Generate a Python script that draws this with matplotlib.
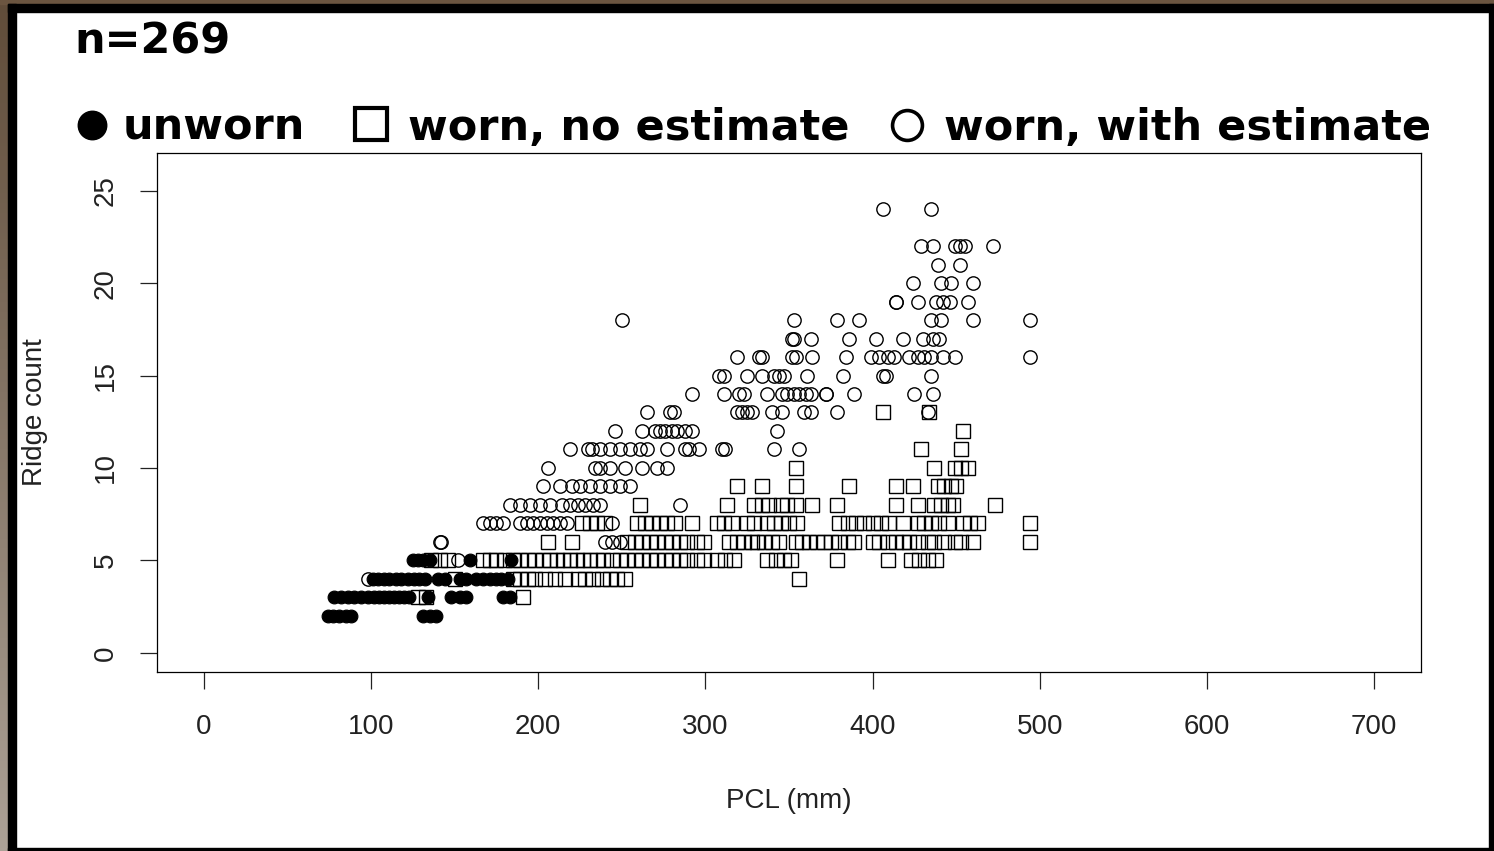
import numpy as np
import matplotlib
matplotlib.use("Agg")
import matplotlib.pyplot as plt
from matplotlib.patches import Rectangle

W, H = 1494, 851

# PCL (mm) values, grouped by ridge count
unworn = {
    2: [74, 77, 81, 85, 88, 131, 135, 139],
    3: [78, 82, 86, 90, 94, 98, 102, 105, 108, 111, 114, 117, 120, 123, 134,
        148, 153, 157, 179, 183],
    4: [101, 104, 108, 111, 115, 118, 122, 126, 129, 132, 140, 144, 153, 157,
        163, 167, 171, 175, 178, 182],
    5: [125, 128, 131, 135, 159, 184],
}

worn_no_est = {
    3: [128, 133, 191],
    4: [150, 185, 189, 194, 198, 204, 210, 216, 224, 228, 233, 238, 243, 247,
        252, 356],
    5: [136, 141, 146, 167, 171, 175, 180, 185, 189, 194, 198, 203, 207, 211,
        215, 219, 223, 227, 231, 235, 239, 244, 249, 253, 258, 262, 267, 271,
        276, 280, 285, 289, 295, 299, 307, 312, 317, 337, 342, 347, 351, 379,
        409, 423, 428, 433, 438],
    6: [206, 220, 253, 258, 262, 267, 271, 276, 280, 285, 289, 295, 299, 314,
        319, 323, 328, 331, 335, 340, 344, 354, 358, 362, 367, 371, 375, 380,
        385, 389, 400, 404, 409, 414, 418, 422, 427, 433, 437, 443, 449, 453,
        460, 494],
    7: [226, 231, 235, 240, 259, 264, 268, 273, 277, 282, 292, 307, 311, 316,
        325, 329, 337, 341, 345, 350, 355, 380, 385, 390, 395, 400, 405, 410,
        418, 427, 431, 435, 440, 445, 454, 458, 463, 494],
    8: [261, 313, 329, 334, 338, 345, 349, 354, 364, 379, 414, 427, 437, 441,
        445, 448, 473],
    9: [319, 334, 354, 386, 414, 424, 439, 443, 447, 450],
    10: [354, 437, 449, 453, 457],
    11: [429, 453],
    12: [454],
    13: [406, 434],
}

worn_est = {
    4: [98],
    5: [152],
    6: [141, 142, 240, 244, 249],
    7: [167, 171, 175, 179, 189, 193, 197, 201, 205, 209, 213, 217, 244],
    8: [183, 189, 195, 201, 207, 214, 219, 224, 228, 233, 237, 285],
    9: [203, 213, 220, 225, 231, 237, 243, 249, 255],
    10: [206, 234, 237, 243, 252, 262, 271, 277],
    11: [219, 230, 232, 237, 243, 249, 255, 261, 265, 277, 288, 290, 296, 310,
         312, 341, 356],
    12: [246, 262, 270, 273, 276, 280, 283, 288, 292, 343],
    13: [265, 279, 281, 319, 322, 325, 328, 340, 346, 359, 363, 379, 433],
    14: [292, 311, 320, 323, 337, 346, 349, 353, 356, 360, 363, 372, 372, 389,
         425, 436],
    15: [308, 311, 325, 334, 341, 344, 347, 361, 382, 406, 408, 435],
    16: [319, 332, 334, 352, 354, 364, 384, 399, 404, 409, 413, 422, 427, 431,
         435, 442, 449, 494],
    17: [352, 353, 363, 386, 402, 418, 430, 436, 440],
    18: [250, 353, 379, 392, 435, 441, 460, 494],
    19: [414, 414, 427, 438, 442, 446, 457],
    20: [424, 441, 447, 460],
    21: [439, 452],
    22: [429, 436, 449, 452, 455, 472],
    24: [406, 435],
}

x_ticks = [0, 100, 200, 300, 400, 500, 600, 700]
y_ticks = [0, 5, 10, 15, 20, 25]


def flatten(rows):
    xs, ys = [], []
    for ridge, pcls in rows.items():
        xs += pcls
        ys += [ridge] * len(pcls)
    return np.array(xs), np.array(ys)


fig = plt.figure(figsize=(W / 100, H / 100), dpi=100, facecolor="white")

# slide frame
left_strip = fig.add_axes([0, 0, 8 / W, 1])
grad = np.linspace(0, 1, 256).reshape(-1, 1)
top_c = np.array([0x60, 0x4c, 0x39]) / 255
bot_c = np.array([0xac, 0xa1, 0x96]) / 255
left_strip.imshow(top_c + grad[..., None] * (bot_c - top_c), aspect="auto")
left_strip.axis("off")
for x0, y0, w, h, c in [(0, 0, W, 4, "#6b5540"), (8, 4, W, 8, "black"),
                        (8, 4, 8, H, "black"), (W - 5, 4, 5, H, "black"),
                        (8, H - 3, W, 3, "black")]:
    fig.patches.append(Rectangle((x0 / W, 1 - (y0 + h) / H), w / W, h / H,
                                 transform=fig.transFigure, color=c, zorder=0))

ax = fig.add_axes([157 / W, 1 - 672 / H, (1421 - 157) / W, (672 - 153) / H])

x, y = flatten(unworn)
ax.plot(x, y, "o", ms=9.2, color="black", mec="black", mew=0.8)
x, y = flatten(worn_no_est)
ax.plot(x, y, "s", ms=9.4, mfc="none", mec="black", mew=1.0)
x, y = flatten(worn_est)
ax.plot(x, y, "o", ms=9.6, mfc="none", mec="black", mew=1.0)

ax.set_xlim(-28, 728)
ax.set_ylim(-1.04, 27.04)
ax.set_xticks(x_ticks)
ax.set_yticks(y_ticks)
for s in ax.spines.values():
    s.set_linewidth(0.9)

tick_font = dict(family=["Liberation Sans", "DejaVu Sans"], size=20, color="#222222")
ax.tick_params(direction="out", length=12.5, width=0.9, color="#222222")
ax.tick_params(axis="x", pad=18)
ax.tick_params(axis="y", pad=15)
ax.set_xticklabels([str(v) for v in x_ticks], **tick_font)
ax.set_yticklabels([str(v) for v in y_ticks], rotation=90, va="center", **tick_font)

ax.set_xlabel("PCL (mm)", **tick_font)
ax.set_ylabel("Ridge count", **tick_font)
ax.xaxis.set_label_coords(0.5, (672 - 788) / 519)
ax.yaxis.set_label_coords((48 - 157) / 1264, 0.5)

# title and legend across the top
big = dict(family="DejaVu Sans", weight="bold", size=31, va="baseline")
fig.text(74 / W, 1 - 53 / H, "n=269", **big)

lg = fig.add_axes([0, 0, 1, 1], facecolor="none")
lg.set_xlim(0, W)
lg.set_ylim(H, 0)
lg.axis("off")
lg.plot([92], [125], "o", ms=20.5, color="black")
lg.plot([371], [124], "s", ms=23, mfc="none", mec="black", mew=3)
lg.plot([907], [125], "o", ms=21.5, mfc="none", mec="black", mew=2.6)
lg.text(123, 140, "unworn", **big)
lg.text(408, 140, "worn, no estimate", **big)
lg.text(944, 140, "worn, with estimate", **big)

fig.savefig("out.png", dpi=100, facecolor=fig.get_facecolor())
